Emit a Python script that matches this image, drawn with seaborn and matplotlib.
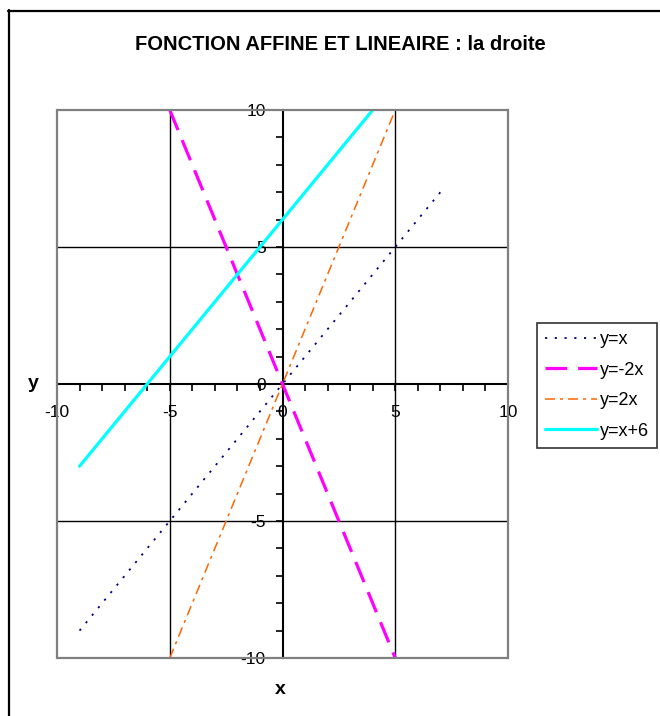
import matplotlib
matplotlib.use("Agg")
import matplotlib.pyplot as plt
from matplotlib.lines import Line2D
from matplotlib.patches import Rectangle
import seaborn as sns
import pandas as pd

# Series: endpoints of each straight line
x_id = [-9, 7]
y_id = [-9, 7]
x_neg2 = [-5, 5]
y_neg2 = [10, -10]
x_pos2 = [-5, 5]
y_pos2 = [-10, 10]
x_shift = [-9, 4]
y_shift = [-3, 10]

labels = ["y=x", "y=-2x", "y=2x", "y=x+6"]
tick_values = [-10, -5, 0, 5, 10]
tick_labels = ["-10", "-5", "0", "5", "10"]

sns.set_theme(style="white")
plt.rcParams["font.family"] = ["Liberation Sans", "DejaVu Sans"]
plt.rcParams["text.color"] = "black"

W, H = 660, 716
fig = plt.figure(figsize=(W / 100, H / 100), dpi=100)
fig.patch.set_facecolor("white")

# plot area in pixel coordinates
L, R, T, B = 57, 508, 110, 658
ax = fig.add_axes([L / W, 1 - B / H, (R - L) / W, (B - T) / H])
ax.set_xlim(-10, 10)
ax.set_ylim(-10, 10)

styles = [
    dict(color="#000080", lw=1.3, dashes=(1.2, 4.2)),
    dict(color="#FF00FF", lw=2.3, dashes=(6.8, 3.4)),
    dict(color="#FF6600", lw=1.1, dashes=(6.5, 3.3, 2.0, 3.3)),
    dict(color="#00FFFF", lw=2.3, dashes=None),
]
series = [(x_id, y_id), (x_neg2, y_neg2), (x_pos2, y_pos2), (x_shift, y_shift)]

# gridlines at +/-5
for v in (-5, 5):
    ax.axvline(v, color="black", lw=1.0, zorder=1)
    ax.axhline(v, color="black", lw=1.0, zorder=1)

handles = []
for (xs, ys), lab, st in zip(series, labels, styles):
    df = pd.DataFrame({"x": xs, "y": ys})
    sns.lineplot(data=df, x="x", y="y", ax=ax, color=st["color"], lw=st["lw"],
                 zorder=3, sort=False, estimator=None)
    line = ax.lines[-1]
    if st["dashes"] is not None:
        line.set_dashes(st["dashes"])
    h = Line2D([], [], color=st["color"], lw=st["lw"])
    if st["dashes"] is not None:
        h.set_dashes(st["dashes"])
    handles.append(h)

# axes crossing at zero
for side in ("top", "right"):
    ax.spines[side].set_visible(False)
ax.spines["left"].set_position(("data", 0))
ax.spines["bottom"].set_position(("data", 0))
for side in ("left", "bottom"):
    ax.spines[side].set_color("black")
    ax.spines[side].set_linewidth(1.5)
    ax.spines[side].set_zorder(2)

ax.set_xticks(tick_values)
ax.set_xticklabels(tick_labels)
ax.set_yticks(tick_values)
ax.set_yticklabels(tick_labels)
ax.set_xticks(range(-10, 11), minor=True)
ax.set_yticks(range(-10, 11), minor=True)
ax.tick_params(which="both", direction="out", length=5, width=1.2, color="black",
               bottom=True, left=True, labelsize=12.5, labelcolor="black")
ax.tick_params(axis="x", which="major", pad=10)
ax.tick_params(axis="y", which="major", pad=7)
ax.set_xlabel("")
ax.set_ylabel("")

# gray frame of the plot area
ax.add_patch(Rectangle((0, 0), 1, 1, transform=ax.transAxes, fill=False,
                       edgecolor="#808080", lw=1.6, zorder=4, clip_on=False))

fig.text(340 / W, 1 - 45 / H, "FONCTION AFFINE ET LINEAIRE : la droite",
         ha="center", va="center", fontsize=14.5, fontweight="bold")
fig.text(33 / W, 1 - 383 / H, "y", ha="center", va="center", fontsize=14, fontweight="bold")
fig.text(280 / W, 1 - 689 / H, "x", ha="center", va="center", fontsize=14, fontweight="bold")

leg = fig.legend(handles, labels, loc="upper left",
                 bbox_to_anchor=(537 / W, 1 - 323 / H), fontsize=13,
                 frameon=True, fancybox=False, handlelength=2.9, handletextpad=0.12,
                 borderpad=0.45, labelspacing=0.75, borderaxespad=0)
leg.get_frame().set_edgecolor("black")
leg.get_frame().set_linewidth(1.2)

# outer chart border
fig.add_artist(Line2D([8.5 / W, 8.5 / W], [0, 1 - 10 / H], color="black", lw=1.6))
fig.add_artist(Line2D([8 / W, 1], [1 - 10.5 / H, 1 - 10.5 / H], color="black", lw=1.6))

fig.savefig("out.png", dpi=100)
